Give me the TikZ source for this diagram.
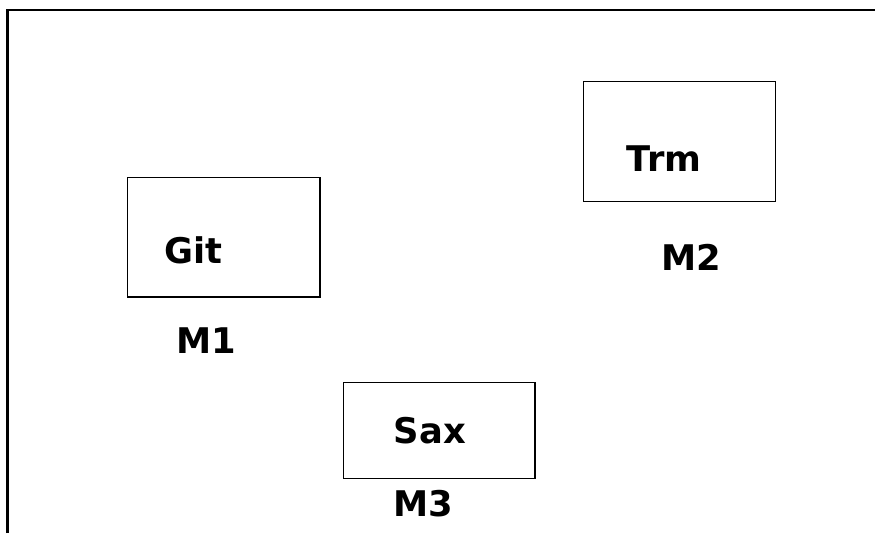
\documentclass[tikz,border=0pt]{standalone}
\usepackage{fontspec}
\setmainfont{DejaVu Sans}
\begin{document}
\begin{tikzpicture}[x=0.75pt,y=-0.75pt,
  box/.style={draw=black,line width=1.4pt},
  lbl/.style={inner sep=0pt,anchor=center,font=\fontsize{26.5}{32}\selectfont\bfseries}]
\useasboundingbox[fill=white] (0,0) rectangle (875,533);
% frame
\coordinate (fa) at (7.5,533);
\coordinate (fb) at (7.5,10);
\coordinate (fc) at (875,10);
\draw[line width=1.8pt] (fa) -- (fb) -- (fc);
% boxes
\draw[box] (127.5,177.5) rectangle (320,297);
\draw[box] (583.5,81.5) rectangle (775.5,201.5);
\draw[box] (343.5,382.5) rectangle (535,478.5);
\node[lbl] (git) at (193,250) {Git};
\node[lbl] (trm) at (664,159) {Trm};
\node[lbl] (sax) at (430,431) {Sax};
\node[lbl] (m1) at (206,341) {M1};
\node[lbl] (m2) at (691,257) {M2};
\node[lbl] (m3) at (423,504) {M3};
\end{tikzpicture}
\end{document}
